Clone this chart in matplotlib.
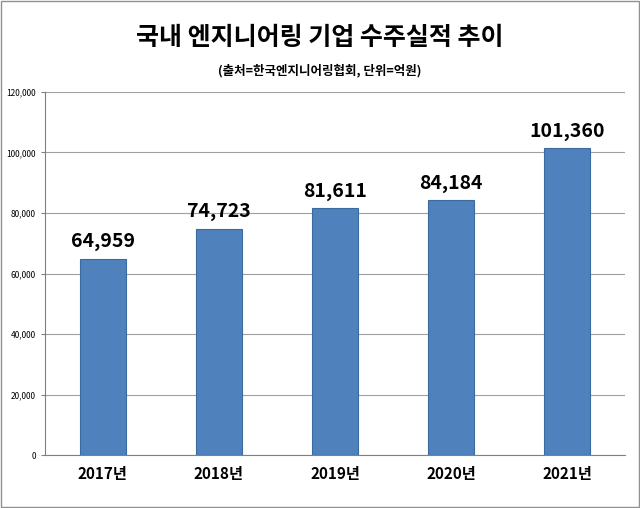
import matplotlib
matplotlib.use("Agg")
import matplotlib.pyplot as plt
from matplotlib.patches import Rectangle

categories = ["2017년", "2018년", "2019년", "2020년", "2021년"]
values = [64959, 74723, 81611, 84184, 101360]
yticks = [0, 20000, 40000, 60000, 80000, 100000, 120000]

plt.rcParams["font.family"] = ["Noto Sans CJK KR", "Noto Sans CJK JP", "Noto Sans CJK SC", "Noto Sans CJK TC", "DejaVu Sans"]
fig = plt.figure(figsize=(6.4, 5.08), dpi=100)
ax = fig.add_axes([0.070, 0.104, 0.907, 0.715])
x = range(len(categories))
ax.bar(x, values, width=0.4, color="#4F81BD", edgecolor="#3A6A9E", linewidth=0.8, zorder=3)
for i, v in enumerate(values):
    ax.text(i, v + 2500, f"{v:,}", ha="center", va="bottom", fontsize=14, fontweight="bold")
ax.set_ylim(0, 120000)
ax.set_xlim(-0.5, 4.5)
ax.set_yticks(yticks)
ax.set_yticklabels([f"{t:,}" for t in yticks], fontsize=6)
ax.set_xticks(list(x))
ax.set_xticklabels(categories, fontsize=11, fontweight="bold")
ax.grid(axis="y", color="#A0A0A0", linewidth=0.8, zorder=0)
for s in ["top", "right"]:
    ax.spines[s].set_visible(False)
ax.spines["left"].set_color("#808080")
ax.spines["bottom"].set_color("#808080")
ax.tick_params(axis="x", length=0, pad=8)
ax.tick_params(axis="y", length=3, color="#808080")
fig.text(0.5, 0.925, "국내 엔지니어링 기업 수주실적 추이", ha="center", va="center", fontsize=18, fontweight="bold")
fig.text(0.5, 0.862, "(출처=한국엔지니어링협회, 단위=억원)", ha="center", va="center", fontsize=9, fontweight="bold")
fig.patches.append(Rectangle((0.002, 0.002), 0.996, 0.996, transform=fig.transFigure, fill=False, edgecolor="#909090", linewidth=1))
fig.savefig("out.png", dpi=100)
